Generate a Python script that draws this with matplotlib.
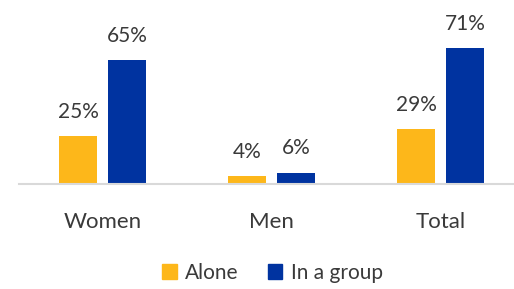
import matplotlib
matplotlib.use("Agg")
import matplotlib.pyplot as plt
from matplotlib.patches import Patch
import numpy as np

categories = ["Women", "Men", "Total"]
alone = [25, 4, 29]
in_a_group = [65, 6, 71]
series_names = ["Alone", "In a group"]

YELLOW = "#FDB71A"
BLUE = "#0033A0"
TEXT = "#3a3a3a"

plt.rcParams['font.family'] = ['Lato', 'DejaVu Sans']

fig = plt.figure(figsize=(5.14, 2.89), dpi=100)
ax = fig.add_axes([19 / 514, 1 - 184 / 289, 495 / 514, 184 / 289])

x = np.arange(len(categories))
width = 0.225
offset = 0.145

bars_a = ax.bar(x - offset, alone, width, color=YELLOW)
bars_b = ax.bar(x + offset, in_a_group, width, color=BLUE)

for bars, vals in ((bars_a, alone), (bars_b, in_a_group)):
    for b, v in zip(bars, vals):
        ax.annotate(f"{v}%", (b.get_x() + b.get_width() / 2, v),
                    xytext=(0, 13), textcoords="offset points",
                    ha="center", va="baseline", fontsize=15, color=TEXT)

ax.set_xlim(-0.497, 2.435)
ax.set_ylim(0, 96.4)
ax.set_yticks([])
ax.set_xticks(x)
ax.set_xticklabels(categories, fontsize=16, color=TEXT)
ax.tick_params(axis="x", length=0, pad=20)
for side in ("top", "right", "left"):
    ax.spines[side].set_visible(False)
ax.spines["bottom"].set_color("#d9d9d9")
ax.spines["bottom"].set_linewidth(1.5)

handles = [Patch(color=YELLOW), Patch(color=BLUE)]
fig.legend(handles, series_names, loc="center", bbox_to_anchor=(0.53, 1 - 273 / 289),
           ncol=2, frameon=False, fontsize=15, handlelength=0.7, handleheight=0.7,
           handletextpad=0.4, columnspacing=1.4, labelcolor=TEXT)

fig.savefig("out.png", dpi=100)
